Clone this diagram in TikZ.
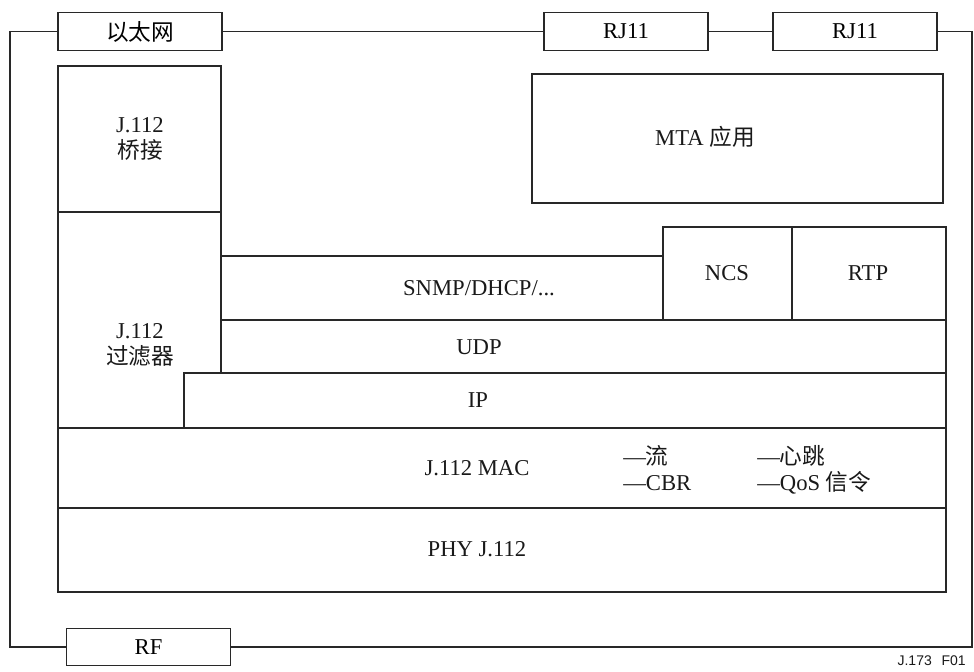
\documentclass[tikz,border=0pt]{standalone}
\usepackage{fontspec}
\setmainfont{Liberation Serif}
\newfontfamily\cjk{Noto Sans CJK SC}
\newfontfamily\figfont{Liberation Sans}
\usetikzlibrary{positioning}
\definecolor{lineGrey}{RGB}{40,40,40}
\definecolor{textGrey}{RGB}{25,25,25}

\tikzset{
  port/.style={draw=lineGrey, line width=0.9pt, minimum width=123pt, minimum height=28pt, inner sep=0pt},
  layer/.style={draw=lineGrey, line width=0.9pt},
  wire/.style={draw=lineGrey, line width=0.9pt},
  lbl/.style={text=textGrey, inner sep=0pt, align=center},
}

\begin{document}
\begin{tikzpicture}[x=0.75pt, y=-0.75pt, font=\fontsize{17}{19.5}\selectfont]
\useasboundingbox (0,0) rectangle (974,671);

% Ports on the casing
\node[port] (eth)  at (140,31.5)  {\cjk 以太网};
\node[port] (rjA)  at (626,31.5)  {RJ11};
\node[port] (rjB)  at (855,31.5)  {RJ11};
\node[port] (rf)   at (148.5,647) {RF};

\coordinate (tl) at (10,31.5);
\coordinate (bl) at (10,647);
\coordinate (br) at (972,647);
\coordinate (tr) at (972,31.5);

% Casing
\draw[wire] (eth.west) -- (tl) -- (bl) -- (rf.west);
\draw[wire] (rf.east) -- (br) -- (tr) -- (rjB.east);
\draw[wire] (eth.east) -- (rjA.west);
\draw[wire] (rjA.east) -- (rjB.west);

% Left column
\draw[layer] (58,66) rectangle (221,212);
\node[lbl] (bridge) at (140,139) {J.112\\{\cjk 桥接}};
\draw[layer] (58,212) -- (221,212) -- (221,373) -- (184,373) -- (184,428) -- (58,428) -- cycle;
\node[lbl] (filter) at (140,345) {J.112\\{\cjk 过滤器}};

% Application
\draw[layer] (532,74) rectangle (943,203);
\node[lbl] (mta) at (705,137) {MTA {\cjk 应用}};

% Protocol stack
\draw[layer] (221,256) rectangle (663,320);
\node[lbl] (snmp) at (479,288) {SNMP/DHCP/...};
\draw[layer] (663,227) rectangle (792,320);
\node[lbl] (ncs) at (727,273) {NCS};
\draw[layer] (792,227) rectangle (946,320);
\node[lbl] (rtp) at (868,273) {RTP};
\draw[layer] (221,320) rectangle (946,373);
\node[lbl] (udp) at (479,347) {UDP};
\draw[layer] (184,373) rectangle (946,428);
\node[lbl] (ip) at (478,400) {IP};

% MAC and PHY
\draw[layer] (58,428) rectangle (946,508);
\node[lbl] (mac) at (477,468) {J.112 MAC};
\node[lbl, anchor=west] (flow)  at (623,456) {—{\cjk 流}};
\node[lbl, anchor=west] (cbr)   at (623,483) {—CBR};
\node[lbl, anchor=west] (beat)  at (757,456) {—{\cjk 心跳}};
\node[lbl, anchor=west] (qos)   at (757,483) {—QoS {\cjk 信令}};
\draw[layer] (58,508) rectangle (946,592);
\node[lbl] (phy) at (477,549) {PHY J.112};

% Figure number
\node[lbl, anchor=east, font=\figfont\fontsize{10.5}{12}\selectfont] (fig) at (966,661) {J.173\hspace{0.7em}F01};
\end{tikzpicture}
\end{document}
